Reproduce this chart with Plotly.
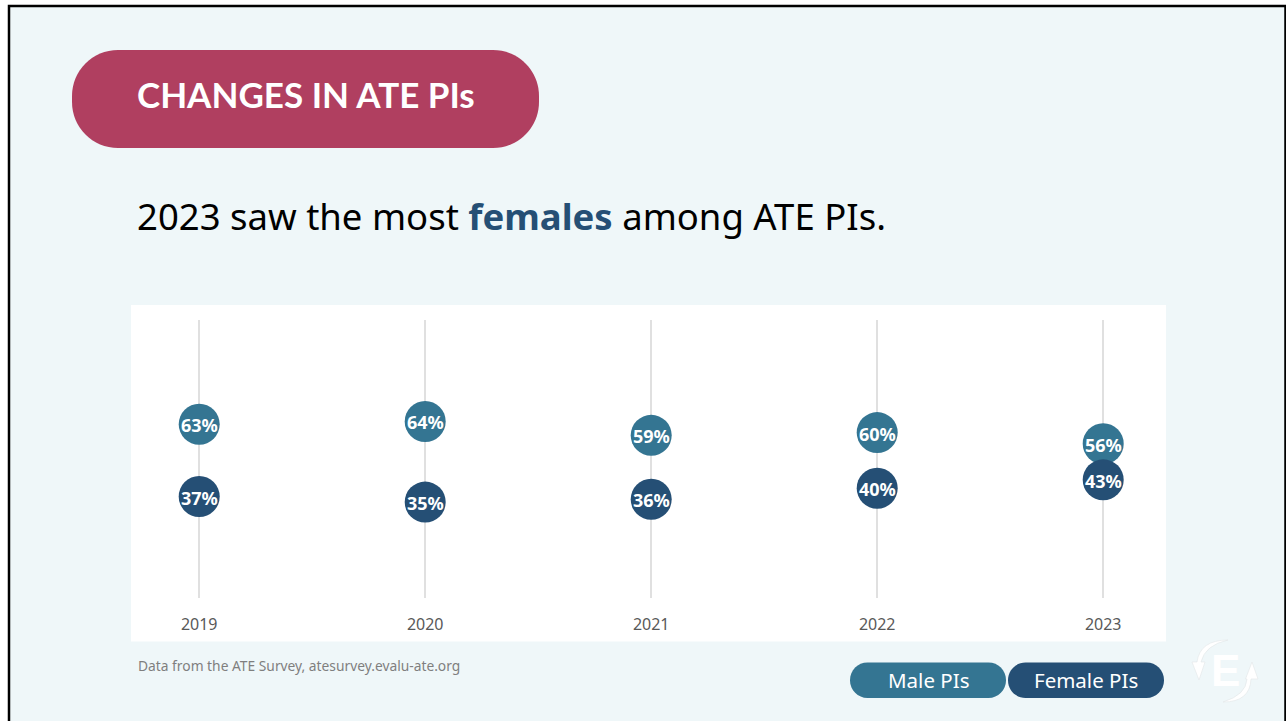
import plotly.graph_objects as go

years = [2019, 2020, 2021, 2022, 2023]
male_pct = [63, 64, 59, 60, 56]
female_pct = [37, 35, 36, 40, 43]

MALE = "#347592"
FEMALE = "#254F75"
BG = "#EFF7F9"
W, H = 1286, 721
L, R, T, B = 131, 1166, 320, 598


def px(x):
    return (x - L) / (R - L)


def py(y):
    return (B - y) / (B - T)


def rect(x0, y0, x1, y1, fill, line=None, lw=0):
    return dict(type="rect", xref="paper", yref="paper", layer="below",
                x0=px(x0), x1=px(x1), y0=py(y0), y1=py(y1), fillcolor=fill,
                line=dict(color=line or fill, width=lw))


def pill(x0, y0, x1, y1, r, fill):
    k = r * 0.4477
    pts = [
        f"M{px(x0 + r)},{py(y0)}", f"L{px(x1 - r)},{py(y0)}",
        f"C{px(x1 - k)},{py(y0)} {px(x1)},{py(y0 + k)} {px(x1)},{py(y0 + r)}",
        f"L{px(x1)},{py(y1 - r)}",
        f"C{px(x1)},{py(y1 - k)} {px(x1 - k)},{py(y1)} {px(x1 - r)},{py(y1)}",
        f"L{px(x0 + r)},{py(y1)}",
        f"C{px(x0 + k)},{py(y1)} {px(x0)},{py(y1 - k)} {px(x0)},{py(y1 - r)}",
        f"L{px(x0)},{py(y0 + r)}",
        f"C{px(x0)},{py(y0 + k)} {px(x0 + k)},{py(y0)} {px(x0 + r)},{py(y0)}", "Z",
    ]
    return dict(type="path", xref="paper", yref="paper", layer="below", path=" ".join(pts),
                fillcolor=fill, line=dict(width=0))


def glyph(d):
    out = []
    for c, coords in d:
        out.append(c + " ".join(f"{px(a)},{py(b)}" for a, b in coords))
    return dict(type="path", xref="paper", yref="paper", layer="below",
                path=" ".join(out) + " Z", fillcolor="#FFFFFF",
                line=dict(color="#E3E6E8", width=0.6))


def note(x, y, text, size, color, family="Noto Sans", anchor="center"):
    return dict(xref="paper", yref="paper", x=px(x), y=py(y), text=text, showarrow=False,
                xanchor=anchor, yanchor="middle", align="left",
                font=dict(size=size, color=color, family=family))


shapes = [
    rect(9, 6, 1285.5, 760, BG, "#000000", 2.5),
    rect(L, 305, R, 641.5, "#FFFFFF"),
    pill(72, 50, 539, 148, 46, "#B03F60"),
    pill(850, 662.5, 1006, 698, 17.5, MALE),
    pill(1008, 662.5, 1164, 698, 17.5, FEMALE),
    glyph([("M", [(1228, 640)]), ("Q", [(1200, 640), (1197, 662)]), ("L", [(1192, 662)]),
           ("L", [(1199, 680)]), ("L", [(1205, 662)]), ("L", [(1201, 662)]),
           ("Q", [(1205, 645), (1228, 640)])]),
    glyph([("M", [(1223, 702)]), ("Q", [(1250, 702), (1251, 679)]), ("L", [(1258, 679)]),
           ("L", [(1252, 662)]), ("L", [(1245.5, 679)]), ("L", [(1247, 679)]),
           ("Q", [(1246, 695), (1223, 702)])]),
]

annotations = [
    note(134.5, 94, "<b>CHANGES IN ATE PIs</b>", 35, "#FFFFFF", "Lato", "left"),
    note(135, 216,
         f'2023 saw the most <b><span style="color:{FEMALE}">females</span></b> among ATE PIs.',
         36.5, "#000000", "Noto Sans", "left"),
    note(135.5, 665, "Data from the ATE Survey, atesurvey.evalu-ate.org", 13.8, "#7F7F7F",
         "Noto Sans", "left"),
    note(928, 680, "Male PIs", 20.5, "#FFFFFF"),
    note(1086, 680, "Female PIs", 20.5, "#FFFFFF"),
    note(1225, 670.5, "<b>E</b>", 44, "#FFFFFF", "Liberation Sans"),
]

fig = go.Figure()
for name, vals, col in [("Male PIs", male_pct, MALE), ("Female PIs", female_pct, FEMALE)]:
    fig.add_trace(go.Scatter(
        x=list(range(len(years))), y=vals, name=name, mode="markers",
        marker=dict(size=41, color=col, line=dict(width=0)), cliponaxis=False,
    ))
    for i, v in enumerate(vals):
        annotations.append(dict(
            xref="x", yref="y", x=i, y=v, text=f"<b>{v}%</b>", showarrow=False,
            xanchor="center", yanchor="middle", yshift=-1,
            font=dict(size=18, color="#FFFFFF", family="Noto Sans"),
        ))

fig.update_layout(
    width=W, height=H, autosize=False, showlegend=False,
    margin=dict(l=L, r=W - R, t=T, b=H - B, pad=0),
    paper_bgcolor="#FFFFFF", plot_bgcolor="rgba(0,0,0,0)",
    shapes=shapes, annotations=annotations,
    xaxis=dict(
        range=[(L - 199.2) / 226, (R - 199.2) / 226], tickvals=list(range(len(years))),
        ticktext=[str(y) for y in years], showgrid=True, gridcolor="#E0E0E0", gridwidth=1.5,
        zeroline=False, showline=False, ticks="", ticklabelstandoff=15,
        tickfont=dict(size=16, color="#595959", family="Noto Sans"),
    ),
    yaxis=dict(range=[0.5, 100.5], visible=False, showgrid=False, zeroline=False),
)

fig.write_html("out.html", config=dict(displayModeBar=False),
               post_script="document.body.style.margin='0';document.body.style.overflow='hidden';")
